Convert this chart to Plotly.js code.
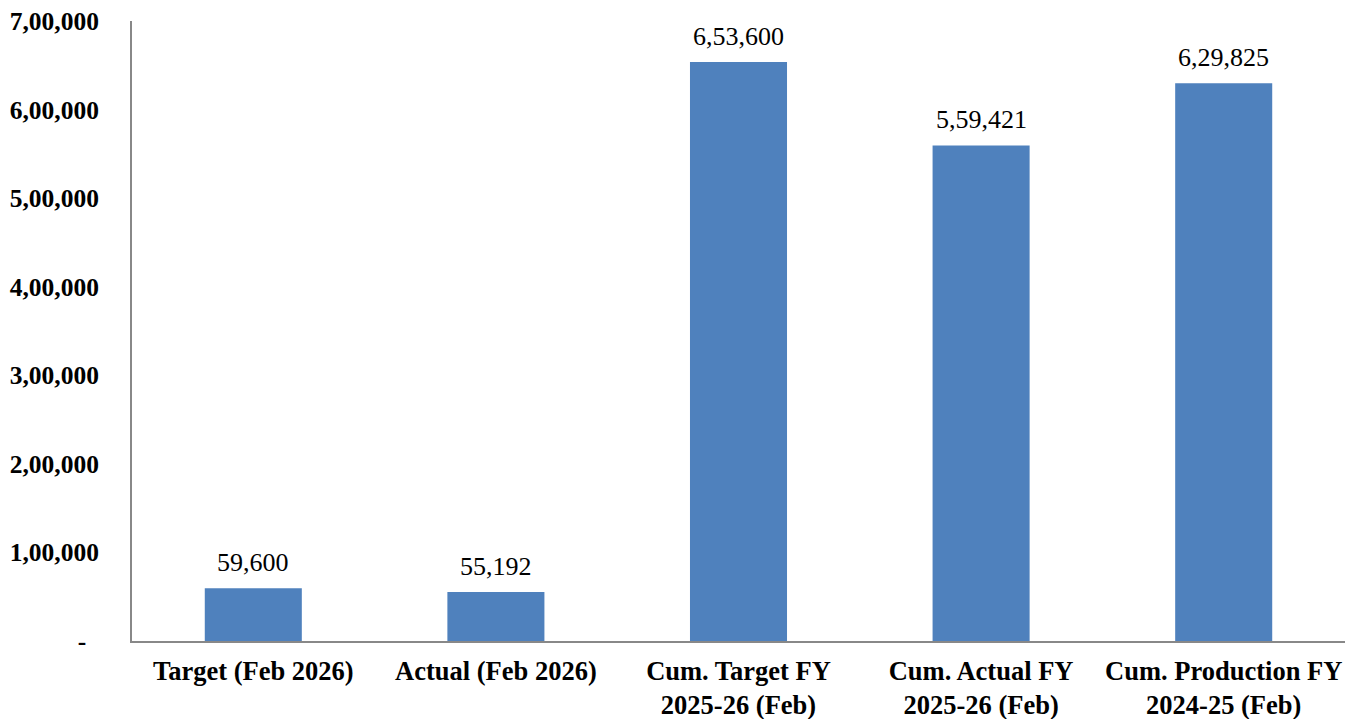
<!DOCTYPE html>
<html>
<head>
<meta charset="utf-8">
<script src="https://cdn.plot.ly/plotly-3.0.1.min.js"></script>
<style>html,body{margin:0;padding:0;background:#fff;}#chart{width:1360px;height:719px;}</style>
</head>
<body>
<div id="chart"></div>
<script>
const categories = [
  "Target (Feb 2026)",
  "Actual (Feb 2026)",
  "Cum. Target FY<br>2025-26 (Feb)",
  "Cum. Actual FY<br>2025-26 (Feb)",
  "Cum. Production FY<br>2024-25 (Feb)"
];
const values = [59600, 55192, 653600, 559421, 629825];
const yTickVals = [0, 100000, 200000, 300000, 400000, 500000, 600000, 700000];

function indianFormat(n) {
  const s = String(Math.round(n));
  if (s.length <= 3) return s;
  const last3 = s.slice(-3);
  let rest = s.slice(0, -3);
  const parts = [];
  while (rest.length > 2) {
    parts.unshift(rest.slice(-2));
    rest = rest.slice(0, -2);
  }
  if (rest.length) parts.unshift(rest);
  return parts.join(",") + "," + last3;
}
const yTickText = yTickVals.map(v => v === 0 ? "-\u00a0\u00a0" : indianFormat(v));

const font = "Liberation Serif, Times New Roman, serif";

const trace = {
  type: "bar",
  x: categories,
  y: values,
  marker: { color: "#4F81BD" },
  hoverinfo: "none"
};

const annotations = categories.map((c, i) => ({
  x: c,
  y: values[i],
  xref: "x",
  yref: "y",
  text: indianFormat(values[i]),
  showarrow: false,
  yanchor: "middle",
  yshift: 26,
  font: { family: font, size: 26, color: "#000" }
}));

const layout = {
  width: 1360,
  height: 719,
  margin: { l: 132, r: 15, t: 21, b: 78 },
  paper_bgcolor: "#fff",
  plot_bgcolor: "#fff",
  bargap: 0.6,
  showlegend: false,
  xaxis: {
    type: "category",
    showline: true,
    linecolor: "#888888",
    linewidth: 2,
    showgrid: false,
    ticks: "",
    tickfont: { family: font, size: 26.5, color: "#000", weight: "bold" },
    ticklabelstandoff: 5,
    fixedrange: true
  },
  yaxis: {
    range: [0, 700000],
    tickvals: yTickVals,
    ticktext: yTickText,
    showline: true,
    linecolor: "#888888",
    linewidth: 2,
    showgrid: false,
    zeroline: false,
    ticks: "",
    tickfont: { family: font, size: 25.5, color: "#000", weight: "bold" },
    ticklabelstandoff: 26,
    fixedrange: true
  },
  annotations: annotations
};

Plotly.newPlot("chart", [trace], layout, { displayModeBar: false, staticPlot: true });
</script>
</body>
</html>
